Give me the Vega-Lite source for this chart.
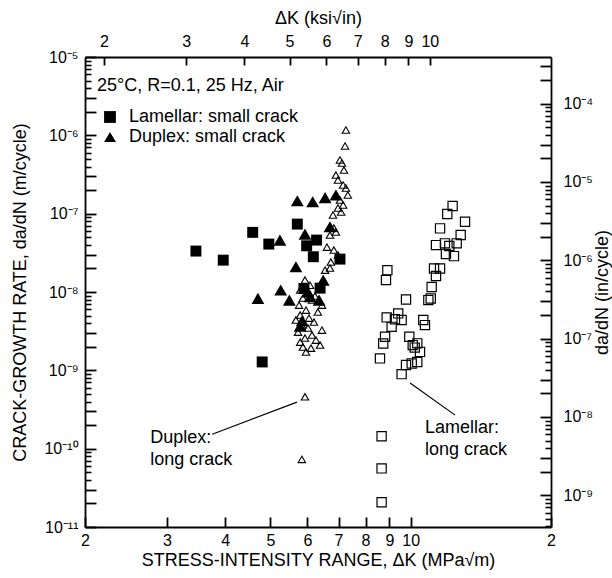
{
  "$schema": "https://vega.github.io/schema/vega-lite/v6.json",
  "width": 466,
  "height": 470,
  "autosize": {"type": "none"},
  "padding": {"left": 85, "top": 57, "right": 61, "bottom": 51},
  "background": "white",
  "config": {
    "font": "Liberation Sans",
    "view": {"stroke": null},
    "axis": {
      "grid": false,
      "domainColor": "black",
      "domainWidth": 1.8,
      "tickColor": "black",
      "tickWidth": 1.8,
      "gridColor": "black",
      "gridOpacity": 1,
      "gridWidth": 1.8,
      "labelColor": "black",
      "titleColor": "black",
      "titleFontWeight": "normal",
      "labelFontSize": 16,
      "titleFontSize": 18,
      "labelOverlap": false,
      "labelFlush": false,
      "labelBound": false
    }
  },
  "datasets": {
    "pts": [
      {"K": 3.46, "v": 3.33e-8, "series": "Lamellar: small crack"},
      {"K": 3.96, "v": 2.55e-8, "series": "Lamellar: small crack"},
      {"K": 4.58, "v": 5.77e-8, "series": "Lamellar: small crack"},
      {"K": 4.96, "v": 4.09e-8, "series": "Lamellar: small crack"},
      {"K": 5.71, "v": 7.36e-8, "series": "Lamellar: small crack"},
      {"K": 5.98, "v": 3.89e-8, "series": "Lamellar: small crack"},
      {"K": 6.18, "v": 2.82e-8, "series": "Lamellar: small crack"},
      {"K": 6.28, "v": 4.6e-8, "series": "Lamellar: small crack"},
      {"K": 5.90, "v": 1.11e-8, "series": "Lamellar: small crack"},
      {"K": 6.39, "v": 1.12e-8, "series": "Lamellar: small crack"},
      {"K": 4.80, "v": 1.28e-9, "series": "Lamellar: small crack"},
      {"K": 7.05, "v": 2.63e-8, "series": "Lamellar: small crack"},
      {"K": 5.71, "v": 1.46e-7, "series": "Duplex: small crack"},
      {"K": 6.16, "v": 1.42e-7, "series": "Duplex: small crack"},
      {"K": 6.55, "v": 1.60e-7, "series": "Duplex: small crack"},
      {"K": 6.91, "v": 1.73e-7, "series": "Duplex: small crack"},
      {"K": 5.24, "v": 4.6e-8, "series": "Duplex: small crack"},
      {"K": 5.93, "v": 5.49e-8, "series": "Duplex: small crack"},
      {"K": 6.71, "v": 6.8e-8, "series": "Duplex: small crack"},
      {"K": 5.67, "v": 2.1e-8, "series": "Duplex: small crack"},
      {"K": 5.26, "v": 1.06e-8, "series": "Duplex: small crack"},
      {"K": 4.70, "v": 8.28e-9, "series": "Duplex: small crack"},
      {"K": 5.49, "v": 7.88e-9, "series": "Duplex: small crack"},
      {"K": 6.49, "v": 1.42e-8, "series": "Duplex: small crack"},
      {"K": 6.36, "v": 7.88e-9, "series": "Duplex: small crack"},
      {"K": 6.08, "v": 8.69e-9, "series": "Duplex: small crack"},
      {"K": 5.79, "v": 3.67e-9, "series": "Duplex: small crack"},
      {"K": 6.02, "v": 1.0e-8, "series": "Duplex: small crack"},
      {"K": 5.85, "v": 4.3e-9, "series": "Duplex: small crack"},
      {"K": 7.26, "v": 1.17e-6, "series": "Duplex: long crack"},
      {"K": 7.23, "v": 7.30e-7, "series": "Duplex: long crack"},
      {"K": 7.05, "v": 4.84e-7, "series": "Duplex: long crack"},
      {"K": 7.12, "v": 4.43e-7, "series": "Duplex: long crack"},
      {"K": 7.19, "v": 3.60e-7, "series": "Duplex: long crack"},
      {"K": 6.91, "v": 3.11e-7, "series": "Duplex: long crack"},
      {"K": 6.98, "v": 2.69e-7, "series": "Duplex: long crack"},
      {"K": 7.16, "v": 2.32e-7, "series": "Duplex: long crack"},
      {"K": 7.26, "v": 2.12e-7, "series": "Duplex: long crack"},
      {"K": 7.33, "v": 1.73e-7, "series": "Duplex: long crack"},
      {"K": 7.05, "v": 1.49e-7, "series": "Duplex: long crack"},
      {"K": 7.16, "v": 1.29e-7, "series": "Duplex: long crack"},
      {"K": 6.98, "v": 1.18e-7, "series": "Duplex: long crack"},
      {"K": 7.09, "v": 1.05e-7, "series": "Duplex: long crack"},
      {"K": 6.81, "v": 9.6e-8, "series": "Duplex: long crack"},
      {"K": 6.84, "v": 6.55e-8, "series": "Duplex: long crack"},
      {"K": 6.91, "v": 5.82e-8, "series": "Duplex: long crack"},
      {"K": 6.71, "v": 5.33e-8, "series": "Duplex: long crack"},
      {"K": 6.61, "v": 3.74e-8, "series": "Duplex: long crack"},
      {"K": 6.84, "v": 3.43e-8, "series": "Duplex: long crack"},
      {"K": 6.98, "v": 2.96e-8, "series": "Duplex: long crack"},
      {"K": 6.74, "v": 2.41e-8, "series": "Duplex: long crack"},
      {"K": 6.71, "v": 2.02e-8, "series": "Duplex: long crack"},
      {"K": 6.55, "v": 1.90e-8, "series": "Duplex: long crack"},
      {"K": 5.93, "v": 1.42e-8, "series": "Duplex: long crack"},
      {"K": 5.79, "v": 1.06e-8, "series": "Duplex: long crack"},
      {"K": 6.08, "v": 1.22e-8, "series": "Duplex: long crack"},
      {"K": 5.87, "v": 8.36e-9, "series": "Duplex: long crack"},
      {"K": 6.14, "v": 7.88e-9, "series": "Duplex: long crack"},
      {"K": 5.76, "v": 6.80e-9, "series": "Duplex: long crack"},
      {"K": 5.96, "v": 5.87e-9, "series": "Duplex: long crack"},
      {"K": 6.32, "v": 5.54e-9, "series": "Duplex: long crack"},
      {"K": 5.79, "v": 5.07e-9, "series": "Duplex: long crack"},
      {"K": 6.05, "v": 4.64e-9, "series": "Duplex: long crack"},
      {"K": 6.20, "v": 4.13e-9, "series": "Duplex: long crack"},
      {"K": 5.84, "v": 3.78e-9, "series": "Duplex: long crack"},
      {"K": 6.02, "v": 3.46e-9, "series": "Duplex: long crack"},
      {"K": 5.73, "v": 3.07e-9, "series": "Duplex: long crack"},
      {"K": 6.14, "v": 2.82e-9, "series": "Duplex: long crack"},
      {"K": 5.93, "v": 2.58e-9, "series": "Duplex: long crack"},
      {"K": 5.79, "v": 2.29e-9, "series": "Duplex: long crack"},
      {"K": 6.26, "v": 2.43e-9, "series": "Duplex: long crack"},
      {"K": 6.39, "v": 2.10e-9, "series": "Duplex: long crack"},
      {"K": 5.96, "v": 1.71e-9, "series": "Duplex: long crack"},
      {"K": 5.87, "v": 1.98e-9, "series": "Duplex: long crack"},
      {"K": 6.11, "v": 1.92e-9, "series": "Duplex: long crack"},
      {"K": 5.67, "v": 4.38e-9, "series": "Duplex: long crack"},
      {"K": 6.45, "v": 3.26e-9, "series": "Duplex: long crack"},
      {"K": 6.23, "v": 8.87e-9, "series": "Duplex: long crack"},
      {"K": 6.45, "v": 6.80e-9, "series": "Duplex: long crack"},
      {"K": 5.93, "v": 4.59e-10, "series": "Duplex: long crack"},
      {"K": 5.84, "v": 7.3e-11, "series": "Duplex: long crack"},
      {"K": 12.30, "v": 1.25e-7, "series": "Lamellar: long crack"},
      {"K": 11.98, "v": 9.88e-8, "series": "Lamellar: long crack"},
      {"K": 13.08, "v": 7.88e-8, "series": "Lamellar: long crack"},
      {"K": 11.56, "v": 6.49e-8, "series": "Lamellar: long crack"},
      {"K": 12.80, "v": 5.33e-8, "series": "Lamellar: long crack"},
      {"K": 11.33, "v": 3.97e-8, "series": "Lamellar: long crack"},
      {"K": 11.84, "v": 4.18e-8, "series": "Lamellar: long crack"},
      {"K": 12.10, "v": 3.86e-8, "series": "Lamellar: long crack"},
      {"K": 12.55, "v": 4.18e-8, "series": "Lamellar: long crack"},
      {"K": 11.90, "v": 3.05e-8, "series": "Lamellar: long crack"},
      {"K": 12.38, "v": 2.87e-8, "series": "Lamellar: long crack"},
      {"K": 11.22, "v": 2.0e-8, "series": "Lamellar: long crack"},
      {"K": 11.56, "v": 2.0e-8, "series": "Lamellar: long crack"},
      {"K": 11.33, "v": 1.60e-8, "series": "Lamellar: long crack"},
      {"K": 11.09, "v": 1.16e-8, "series": "Lamellar: long crack"},
      {"K": 10.91, "v": 7.88e-9, "series": "Lamellar: long crack"},
      {"K": 11.04, "v": 8.28e-9, "series": "Lamellar: long crack"},
      {"K": 9.77, "v": 8.04e-9, "series": "Lamellar: long crack"},
      {"K": 8.91, "v": 1.90e-8, "series": "Lamellar: long crack"},
      {"K": 8.85, "v": 1.42e-8, "series": "Lamellar: long crack"},
      {"K": 8.88, "v": 4.74e-9, "series": "Lamellar: long crack"},
      {"K": 9.10, "v": 3.59e-9, "series": "Lamellar: long crack"},
      {"K": 9.40, "v": 5.33e-9, "series": "Lamellar: long crack"},
      {"K": 9.56, "v": 4.38e-9, "series": "Lamellar: long crack"},
      {"K": 9.25, "v": 4.5e-9, "series": "Lamellar: long crack"},
      {"K": 10.64, "v": 4.38e-9, "series": "Lamellar: long crack"},
      {"K": 10.73, "v": 3.78e-9, "series": "Lamellar: long crack"},
      {"K": 8.81, "v": 2.68e-9, "series": "Lamellar: long crack"},
      {"K": 8.73, "v": 2.2e-9, "series": "Lamellar: long crack"},
      {"K": 9.93, "v": 2.68e-9, "series": "Lamellar: long crack"},
      {"K": 10.10, "v": 2.10e-9, "series": "Lamellar: long crack"},
      {"K": 10.33, "v": 2.21e-9, "series": "Lamellar: long crack"},
      {"K": 10.47, "v": 1.72e-9, "series": "Lamellar: long crack"},
      {"K": 10.2, "v": 1.95e-9, "series": "Lamellar: long crack"},
      {"K": 8.59, "v": 1.42e-9, "series": "Lamellar: long crack"},
      {"K": 9.77, "v": 1.17e-9, "series": "Lamellar: long crack"},
      {"K": 10.05, "v": 1.22e-9, "series": "Lamellar: long crack"},
      {"K": 10.33, "v": 1.28e-9, "series": "Lamellar: long crack"},
      {"K": 9.56, "v": 8.94e-10, "series": "Lamellar: long crack"},
      {"K": 8.66, "v": 1.44e-10, "series": "Lamellar: long crack"},
      {"K": 8.66, "v": 5.6e-11, "series": "Lamellar: long crack"},
      {"K": 8.66, "v": 2.07e-11, "series": "Lamellar: long crack"}
    ],
    "notes": [
      {"K": 2.76, "v": 1.36e-10, "label": "Duplex:"},
      {"K": 2.76, "v": 7.13e-11, "label": "long crack"},
      {"K": 10.73, "v": 1.83e-10, "label": "Lamellar:"},
      {"K": 10.73, "v": 9.57e-11, "label": "long crack"}
    ],
    "leaders": [
      {"K": 3.75, "v": 1.53e-10, "K2": 5.70, "v2": 3.93e-10},
      {"K": 9.97, "v": 6.87e-10, "K2": 12.45, "v2": 2.68e-10}
    ]
  },
  "data": {"name": "pts"},
  "layer": [
    {
      "transform": [{"filter": "datum.series == 'Duplex: long crack'"}],
      "mark": {"type": "point", "shape": "triangle-up", "size": 55, "filled": false, "color": "black", "strokeWidth": 1.1, "opacity": 1},
      "encoding": {
        "x": {
          "field": "K", "type": "quantitative",
          "scale": {"type": "log", "domain": [2, 20], "nice": false},
          "axis": {
            "orient": "bottom",
            "values": [2, 3, 4, 5, 6, 7, 8, 9, 10, 20],
            "labelExpr": "datum.value > 15 ? '2' : format(datum.value, 'd')",
            "tickSize": -10,
            "labelPadding": 15,
            "title": "STRESS-INTENSITY RANGE, ΔK (MPa√m)",
            "titlePadding": 3
          }
        },
        "y": {
          "field": "v", "type": "quantitative",
          "scale": {"type": "log", "domain": [1e-11, 1e-5], "nice": false},
          "axis": {
            "orient": "left",
            "ticks": false,
            "grid": true,
            "gridDash": [11, 2000],
            "values": [1e-11, 2e-11, 3e-11, 1e-10, 2e-10, 3e-10, 1e-9, 2e-9, 3e-9, 1e-8, 2e-8, 3e-8, 1e-7, 2e-7, 3e-7, 1e-6, 2e-6, 3e-6, 1e-5],
            "labelExpr": "abs(log(datum.value)/LN10 - round(log(datum.value)/LN10)) < 0.01 ? '10⁻' + (round(-log(datum.value)/LN10) >= 10 ? '¹' + ['⁰','¹','²','³','⁴','⁵','⁶','⁷','⁸','⁹'][round(-log(datum.value)/LN10) - 10] : ['⁰','¹','²','³','⁴','⁵','⁶','⁷','⁸','⁹'][round(-log(datum.value)/LN10)]) : ''",
            "labelPadding": 7,
            "title": "CRACK-GROWTH RATE, da/dN (m/cycle)",
            "titlePadding": 14
          }
        }
      }
    },
    {
      "transform": [{"filter": "datum.series == 'Lamellar: long crack'"}],
      "mark": {"type": "point", "shape": "square", "size": 85, "filled": false, "color": "black", "strokeWidth": 1.2, "opacity": 1},
      "encoding": {
        "x": {"field": "K", "type": "quantitative", "scale": {"type": "log", "domain": [2, 20], "nice": false}, "axis": null},
        "y": {
          "field": "v", "type": "quantitative",
          "scale": {"type": "log", "domain": [1e-11, 1e-5], "nice": false},
          "axis": {
            "orient": "left",
            "ticks": false,
            "labels": false,
            "domain": false,
            "title": null,
            "grid": true,
            "gridDash": [6, 2000],
            "gridWidth": 1.6,
            "values": [4e-11, 5e-11, 6e-11, 7e-11, 8e-11, 9e-11, 4e-10, 5e-10, 6e-10, 7e-10, 8e-10, 9e-10, 4e-9, 5e-9, 6e-9, 7e-9, 8e-9, 9e-9, 4e-8, 5e-8, 6e-8, 7e-8, 8e-8, 9e-8, 4e-7, 5e-7, 6e-7, 7e-7, 8e-7, 9e-7, 4e-6, 5e-6, 6e-6, 7e-6, 8e-6, 9e-6]
          }
        }
      }
    },
    {
      "transform": [{"filter": "datum.series == 'Duplex: small crack'"}],
      "mark": {"type": "point", "shape": "triangle-up", "filled": true, "color": "black", "size": 165, "opacity": 1},
      "encoding": {
        "x": {"field": "K", "type": "quantitative", "scale": {"type": "log", "domain": [2, 20], "nice": false}, "axis": null},
        "y": {
          "field": "v", "type": "quantitative",
          "scale": {"type": "log", "domain": [1e-11, 1e-5], "nice": false},
          "axis": {
            "orient": "right",
            "ticks": false,
            "labels": false,
            "domain": false,
            "title": null,
            "grid": true,
            "gridDash": [6, 2000],
            "gridWidth": 1.6,
            "values": [1.016e-11, 1.27e-11, 1.524e-11, 1.778e-11, 2.032e-11, 2.286e-11, 1.016e-10, 1.27e-10, 1.524e-10, 1.778e-10, 2.032e-10, 2.286e-10, 1.016e-9, 1.27e-9, 1.524e-9, 1.778e-9, 2.032e-9, 2.286e-9, 1.016e-8, 1.27e-8, 1.524e-8, 1.778e-8, 2.032e-8, 2.286e-8, 1.016e-7, 1.27e-7, 1.524e-7, 1.778e-7, 2.032e-7, 2.286e-7, 1.016e-6, 1.27e-6, 1.524e-6, 1.778e-6, 2.032e-6, 2.286e-6]
          }
        }
      }
    },
    {
      "transform": [{"filter": "datum.series == 'Lamellar: small crack'"}],
      "mark": {"type": "point", "filled": true, "color": "black", "size": 120, "opacity": 1},
      "encoding": {
        "x": {
          "field": "K", "type": "quantitative",
          "scale": {"type": "log", "domain": [2, 20], "nice": false},
          "axis": {
            "orient": "top",
            "values": [2.197686, 3.296529, 4.395372, 5.494215, 6.593058, 7.691901, 8.790744, 9.889587, 10.98843],
            "labelExpr": "format(round(datum.value / 1.098843), 'd')",
            "tickSize": -8,
            "labelPadding": 16,
            "title": "ΔK (ksi√in)",
            "titlePadding": 6
          }
        },
        "y": {
          "field": "v", "type": "quantitative",
          "scale": {"type": "log", "domain": [1e-11, 1e-5], "nice": false},
          "axis": {
            "orient": "right",
            "ticks": false,
            "grid": true,
            "gridDash": [11, 2000],
            "values": [2.54e-11, 5.08e-11, 7.62e-11, 2.54e-10, 5.08e-10, 7.62e-10, 2.54e-9, 5.08e-9, 7.62e-9, 2.54e-8, 5.08e-8, 7.62e-8, 2.54e-7, 5.08e-7, 7.62e-7, 2.54e-6, 5.08e-6, 7.62e-6],
            "labelExpr": "abs(log(datum.value/0.0254)/LN10 - round(log(datum.value/0.0254)/LN10)) < 0.01 ? '10⁻' + ['⁰','¹','²','³','⁴','⁵','⁶','⁷','⁸','⁹'][round(-log(datum.value/0.0254)/LN10)] : ''",
            "labelPadding": 12,
            "title": "da/dN (in/cycle)",
            "titleAngle": -90,
            "titleBaseline": "top",
            "titlePadding": 1
          }
        },
        "shape": {
          "field": "series", "type": "nominal",
          "scale": {"domain": ["Lamellar: small crack", "Duplex: small crack", "Lamellar: long crack", "Duplex: long crack"], "range": ["square", "triangle-up", "square", "triangle-up"]},
          "legend": {
            "values": ["Lamellar: small crack", "Duplex: small crack"],
            "title": "25°C, R=0.1, 25 Hz, Air",
            "orient": "none",
            "legendX": 12,
            "legendY": 20,
            "titleFontSize": 18,
            "titleFontWeight": "normal",
            "titleColor": "black",
            "titleLimit": 400,
            "labelFontSize": 18,
            "labelColor": "black",
            "labelLimit": 400,
            "symbolSize": 140,
            "symbolFillColor": "black",
            "symbolStrokeWidth": 0,
            "symbolOffset": 4,
            "labelOffset": 10,
            "rowPadding": 2,
            "titlePadding": 13,
            "padding": 0
          }
        }
      }
    },
    {
      "data": {"name": "leaders"},
      "mark": {"type": "rule", "color": "black", "strokeWidth": 1.2},
      "encoding": {
        "x": {"field": "K", "type": "quantitative", "scale": {"type": "log", "domain": [2, 20], "nice": false}, "axis": null},
        "y": {"field": "v", "type": "quantitative", "scale": {"type": "log", "domain": [1e-11, 1e-5], "nice": false}, "axis": null},
        "x2": {"field": "K2"},
        "y2": {"field": "v2"}
      }
    },
    {
      "data": {"name": "notes"},
      "mark": {"type": "text", "align": "left", "baseline": "middle", "fontSize": 18, "color": "black"},
      "encoding": {
        "x": {"field": "K", "type": "quantitative", "scale": {"type": "log", "domain": [2, 20], "nice": false}, "axis": null},
        "y": {"field": "v", "type": "quantitative", "scale": {"type": "log", "domain": [1e-11, 1e-5], "nice": false}, "axis": null},
        "text": {"field": "label"}
      }
    }
  ],
  "resolve": {"axis": {"x": "independent", "y": "independent"}}
}
